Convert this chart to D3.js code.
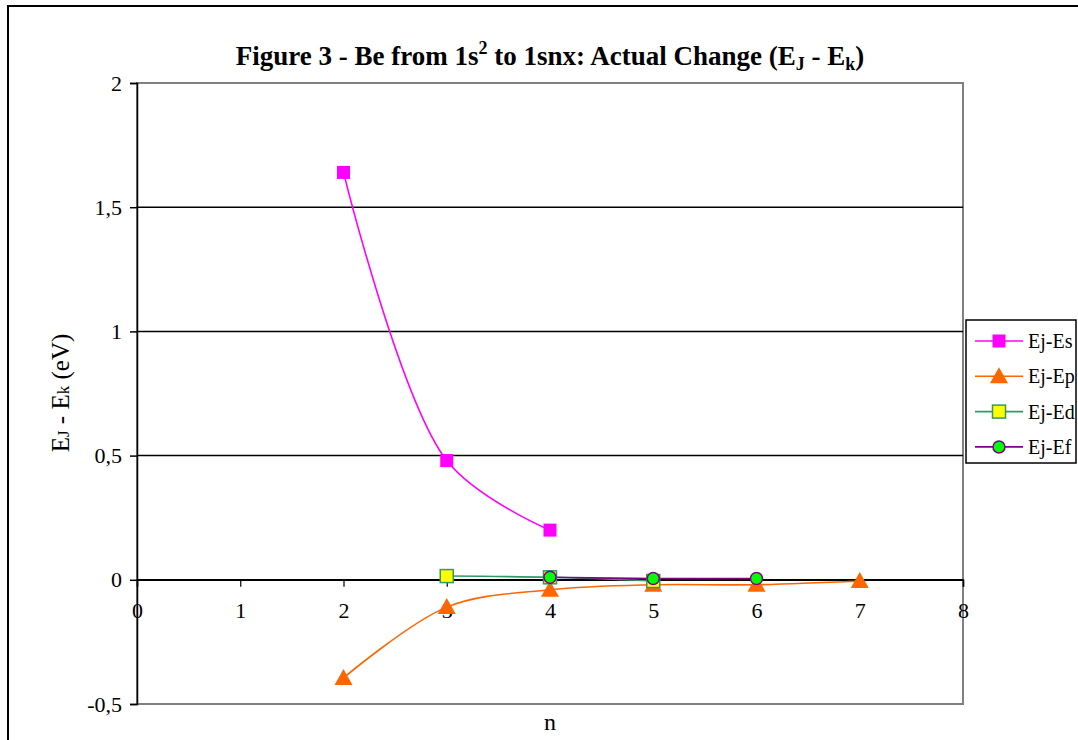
<!DOCTYPE html>
<html><head><meta charset="utf-8">
<script src="https://cdn.jsdelivr.net/npm/d3@7"></script>
<style>body{margin:0;background:#fff;} svg{display:block;font-family:"Liberation Serif","Times New Roman",serif;}</style>
</head><body>
<svg id="c" width="1078" height="740"></svg>
<script>
const nEs = [2, 3, 4];
const valEs = [1.64, 0.48, 0.2];
const nEp = [2, 3, 4, 5, 6, 7];
const valEp = [-0.395, -0.11, -0.04, -0.02, -0.02, -0.005];
const nEd = [3, 4, 5];
const valEd = [0.015, 0.01, -0.005];
const nEf = [4, 5, 6];
const valEf = [0.01, 0.005, 0.005];
const xTicks = [0, 1, 2, 3, 4, 5, 6, 7, 8];
const yTicks = [-0.5, 0, 0.5, 1, 1.5, 2];
const seriesNames = ["Ej-Es", "Ej-Ep", "Ej-Ed", "Ej-Ef"];

const svg = d3.select("#c");
const L = 137, R = 963, T = 83, B = 704;
const x = d3.scaleLinear().domain([0, 8]).range([L, R]);
const y = d3.scaleLinear().domain([-0.5, 2]).range([B, T]);

// outer border
svg.append("rect").attr("x", 8).attr("y", 6).attr("width", 1078).attr("height", 760)
  .attr("fill", "none").attr("stroke", "#000").attr("stroke-width", 2);

// plot area border (grey)
svg.append("rect").attr("x", L).attr("y", T).attr("width", R - L).attr("height", B - T)
  .attr("fill", "none").attr("stroke", "#808080").attr("stroke-width", 2);

// gridlines
svg.append("g").selectAll("line").data(yTicks.filter(v => v > -0.5 && v < 2)).join("line")
  .attr("x1", L).attr("x2", R).attr("y1", d => y(d)).attr("y2", d => y(d))
  .attr("stroke", "#000").attr("stroke-width", 1.5);

// y axis
const fmt = d => String(d).replace(".", ",");
const yAxis = d3.axisLeft(y).tickValues(yTicks).tickSize(7).tickPadding(8).tickFormat(fmt);
const gy = svg.append("g").attr("transform", `translate(${L},0)`).call(yAxis);
gy.select(".domain").attr("stroke", "#000").attr("stroke-width", 1.5);
gy.selectAll(".tick line").attr("stroke", "#000").attr("stroke-width", 1.5);
gy.selectAll("text").attr("font-size", 22).attr("font-family", "Liberation Serif").attr("fill", "#000");

// x axis at y=0
const xAxis = d3.axisBottom(x).tickValues(xTicks).tickSize(7).tickPadding(16).tickFormat(d => d);
const gx = svg.append("g").attr("transform", `translate(0,${y(0)})`).call(xAxis);
gx.select(".domain").attr("stroke", "#000").attr("stroke-width", 1.5);
gx.selectAll(".tick line").attr("stroke", "#000").attr("stroke-width", 1.2);
gx.selectAll("text").attr("font-size", 22).attr("font-family", "Liberation Serif").attr("fill", "#000");

// title
const title = svg.append("text").attr("x", 550).attr("y", 65).attr("text-anchor", "middle")
  .attr("font-size", 27).attr("font-weight", "bold").attr("fill", "#000");
title.append("tspan").text("Figure 3 - Be from 1s");
title.append("tspan").attr("dy", -11).attr("font-size", 18).text("2");
title.append("tspan").attr("dy", 11).text(" to 1snx: Actual Change (E");
title.append("tspan").attr("dy", 5).attr("font-size", 18).text("J");
title.append("tspan").attr("dy", -5).text(" - E");
title.append("tspan").attr("dy", 5).attr("font-size", 18).text("k");
title.append("tspan").attr("dy", -5).text(")");

// axis titles
svg.append("text").attr("x", 550).attr("y", 730).attr("text-anchor", "middle")
  .attr("font-size", 24).attr("fill", "#000").text("n");
const yt = svg.append("text").attr("transform", "translate(69,393) rotate(-90)")
  .attr("text-anchor", "middle").attr("font-size", 25).attr("fill", "#000");
yt.append("tspan").text("E");
yt.append("tspan").attr("font-size", 17).text("J");
yt.append("tspan").text(" - E");
yt.append("tspan").attr("font-size", 17).text("k");
yt.append("tspan").text(" (eV)");

const line = d3.line().x(d => x(d[0])).y(d => y(d[1])).curve(d3.curveCatmullRom.alpha(0.5));
const series = [
  {n: nEs, v: valEs, color: "#FF00FF", marker: "square", fill: "#FF00FF", stroke: "#FF00FF"},
  {n: nEp, v: valEp, color: "#FF6600", marker: "triangle", fill: "#FF6600", stroke: "#FF6600"},
  {n: nEd, v: valEd, color: "#339966", marker: "square2", fill: "#FFFF00", stroke: "#339966"},
  {n: nEf, v: valEf, color: "#800080", marker: "circle", fill: "#00FF00", stroke: "#800080"}
];

function drawMarker(g, type, cx, cy, fill, stroke) {
  if (type === "square") {
    g.append("rect").attr("x", cx - 6.5).attr("y", cy - 6.5).attr("width", 13).attr("height", 13).attr("fill", fill);
  } else if (type === "square2") {
    g.append("rect").attr("x", cx - 6.5).attr("y", cy - 6.5).attr("width", 13).attr("height", 13)
      .attr("fill", fill).attr("stroke", stroke).attr("stroke-width", 1.5);
  } else if (type === "triangle") {
    g.append("path").attr("d", `M${cx},${cy - 9}L${cx + 9},${cy + 7}L${cx - 9},${cy + 7}Z`).attr("fill", fill);
  } else {
    g.append("circle").attr("cx", cx).attr("cy", cy).attr("r", 6).attr("fill", fill)
      .attr("stroke", stroke).attr("stroke-width", 1.5);
  }
}

[1, 0, 2, 3].forEach(i => {
  const s = series[i];
  const pts = s.n.map((n, j) => [n, s.v[j]]);
  svg.append("path").datum(pts).attr("d", line).attr("fill", "none")
    .attr("stroke", s.color).attr("stroke-width", 1.6);
});
[1, 0, 2, 3].forEach(i => {
  const s = series[i];
  const g = svg.append("g");
  s.n.forEach((n, j) => drawMarker(g, s.marker, x(n), y(s.v[j]), s.fill, s.stroke));
});

// legend
const lg = svg.append("g");
lg.append("rect").attr("x", 966).attr("y", 320).attr("width", 110).attr("height", 143)
  .attr("fill", "#fff").attr("stroke", "#000").attr("stroke-width", 1.5);
series.forEach((s, i) => {
  const ly = 341 + i * 35.3;
  lg.append("line").attr("x1", 975).attr("x2", 1023).attr("y1", ly).attr("y2", ly)
    .attr("stroke", s.color).attr("stroke-width", 1.6);
  drawMarker(lg, s.marker, 999, ly, s.fill, s.stroke);
  lg.append("text").attr("x", 1028).attr("y", ly + 7).attr("font-size", 20).attr("fill", "#000").text(seriesNames[i]);
});
</script>
</body></html>
